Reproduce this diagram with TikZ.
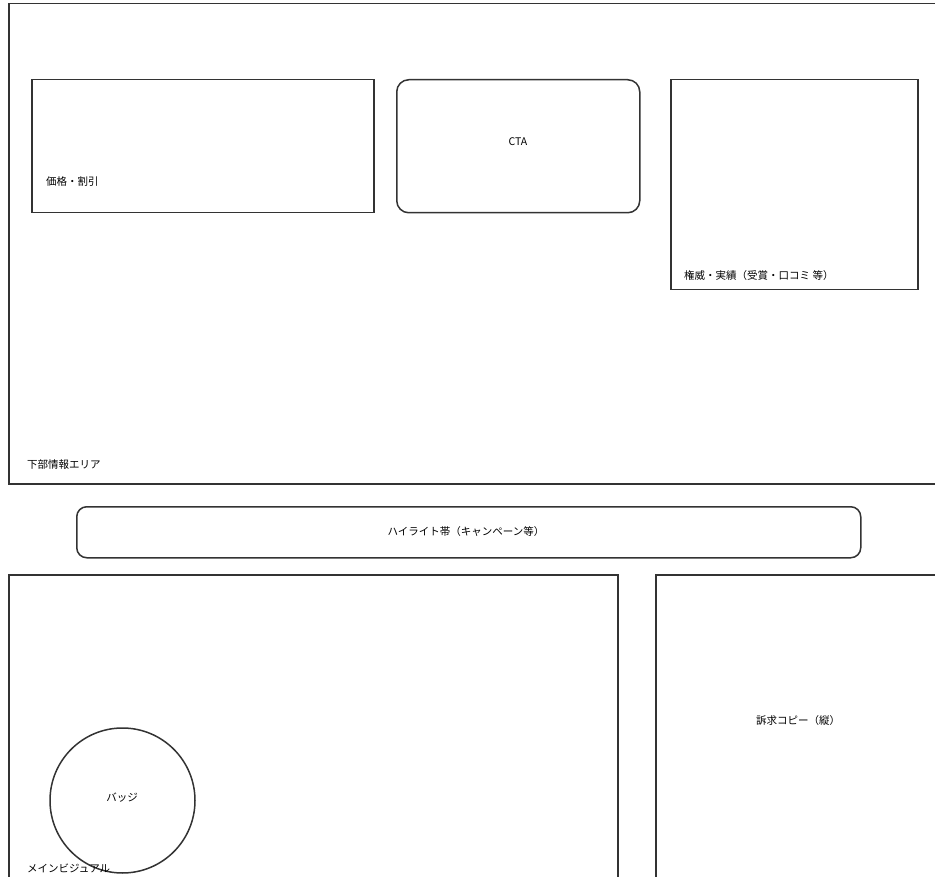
\documentclass[tikz,border=0pt]{standalone}
\usepackage{fontspec}
\setmainfont{Noto Sans CJK JP}
\usetikzlibrary{positioning}
\definecolor{Frame}{HTML}{333333}
\tikzset{area/.style={draw=Frame,line width=1.5pt,anchor=north west,inner sep=0pt},
lab/.style={font=\fontsize{10.5}{12}\selectfont,inner sep=0pt}}

\begin{document}
\begin{tikzpicture}[x=1pt,y=-1pt]
\useasboundingbox(0,0)rectangle(935,877);
\clip(0,0)rectangle(935,877);
\node[area,minimum width=940,minimum height=480](info)at(8,3){};
\node[area,minimum width=342,minimum height=133](price)at(31,79){};
\node[area,rounded corners=12,minimum width=243,minimum height=133](cta)at(396,79){};
\node[area,minimum width=247,minimum height=210](trust)at(670,79){};
\node[area,rounded corners=10,minimum width=784,minimum height=51](band)at(76,506){};
\node[area,minimum width=609,minimum height=320](visual)at(8,574){};
\node[area,minimum width=290,minimum height=320](copy)at(655,574){};
\node[draw=Frame,line width=1.5pt,circle,minimum size=145,inner sep=0pt](badge)at(122.5,800.5){};
\node[lab,anchor=west](pricelab)at(46,182){価格・割引};
\node[lab](ctalab)at(518,142){CTA};
\node[lab,anchor=west](trustlab)at(684,276){権威・実績（受賞・口コミ 等）};
\node[lab,anchor=west](infolab)at(27,465){下部情報エリア};
\node[lab](bandlab)at(466,532){ハイライト帯（キャンペーン等）};
\node[lab](copylab)at(798,721){訴求コピー（縦）};
\node[lab](badgelab)at(122,798){バッジ};
\node[lab,anchor=west](visuallab)at(27,868){メインビジュアル};
\end{tikzpicture}
\end{document}
